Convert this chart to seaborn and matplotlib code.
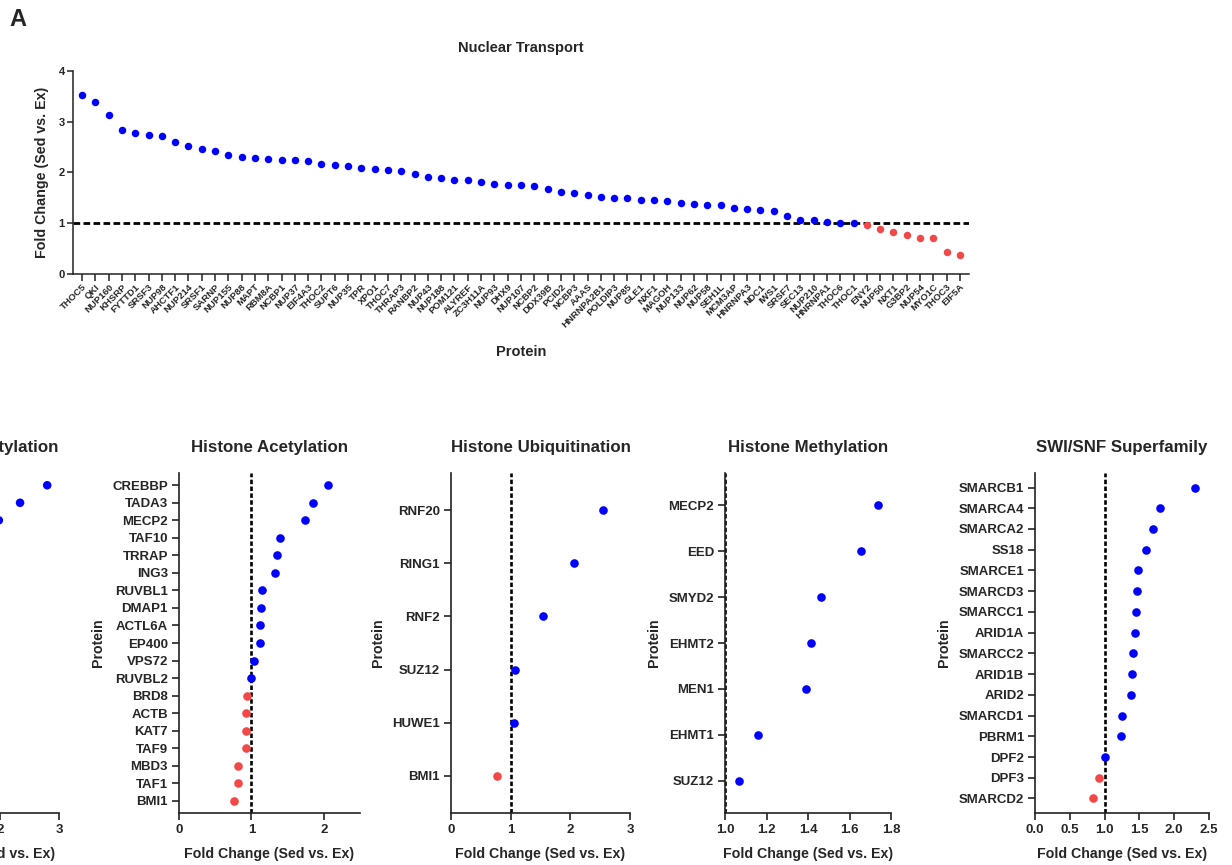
import numpy as np
import pandas as pd
import matplotlib
matplotlib.use("Agg")
import matplotlib.pyplot as plt
import seaborn as sns

# ---------------- data ----------------
nt_proteins = ["THOC5", "QKI", "NUP160", "KHSRP", "FYTTD1", "SRSF3", "NUP98", "AHCTF1", "NUP214",
               "SRSF1", "SARNP", "NUP155", "NUP88", "MAPT", "RBM8A", "NCBP1", "NUP37", "EIF4A3",
               "THOC2", "SUPT6", "NUP35", "TPR", "XPO1", "THOC7", "THRAP3", "RANBP2", "NUP43",
               "NUP188", "POM121", "ALYREF", "ZC3H11A", "NUP93", "DHX9", "NUP107", "NCBP2", "DDX39B",
               "PCID2", "NCBP3", "AAAS", "HNRNPA2B1", "POLDIP3", "NUP85", "GLE1", "NXF1", "MAGOH",
               "NUP133", "NUP62", "NUP58", "SEH1L", "MCM3AP", "HNRNPA3", "NDC1", "IWS1", "SRSF7",
               "SEC13", "NUP210", "HNRNPA1", "THOC6", "THOC1", "ENY2", "NUP50", "NXT1", "G3BP2",
               "NUP54", "MYO1C", "THOC3", "EIF5A"]
nt_values = [3.53, 3.38, 3.14, 2.83, 2.78, 2.73, 2.71, 2.60, 2.53,
             2.46, 2.43, 2.34, 2.31, 2.29, 2.27, 2.25, 2.24, 2.23,
             2.17, 2.15, 2.12, 2.09, 2.06, 2.04, 2.03, 1.97, 1.92,
             1.90, 1.86, 1.86, 1.82, 1.77, 1.76, 1.75, 1.74, 1.67,
             1.61, 1.59, 1.56, 1.51, 1.49, 1.49, 1.45, 1.45, 1.44,
             1.40, 1.38, 1.36, 1.35, 1.31, 1.29, 1.27, 1.25, 1.14,
             1.06, 1.06, 1.02, 1.01, 1.01, 0.96, 0.89, 0.82, 0.77,
             0.71, 0.70, 0.43, 0.37]

deac_values = [2.80, 2.34, 1.98]          # only the visible part of the cut-off panel

acet_proteins = ["CREBBP", "TADA3", "MECP2", "TAF10", "TRRAP", "ING3", "RUVBL1", "DMAP1", "ACTL6A",
                 "EP400", "VPS72", "RUVBL2", "BRD8", "ACTB", "KAT7", "TAF9", "MBD3", "TAF1", "BMI1"]
acet_values = [2.06, 1.85, 1.74, 1.40, 1.35, 1.33, 1.14, 1.13, 1.12,
               1.12, 1.04, 1.00, 0.94, 0.93, 0.92, 0.92, 0.82, 0.81, 0.76]

ubiq_proteins = ["RNF20", "RING1", "RNF2", "SUZ12", "HUWE1", "BMI1"]
ubiq_values = [2.55, 2.06, 1.54, 1.08, 1.06, 0.77]

meth_proteins = ["MECP2", "EED", "SMYD2", "EHMT2", "MEN1", "EHMT1", "SUZ12"]
meth_values = [1.736, 1.657, 1.461, 1.416, 1.392, 1.161, 1.069]

swi_proteins = ["SMARCB1", "SMARCA4", "SMARCA2", "SS18", "SMARCE1", "SMARCD3", "SMARCC1", "ARID1A",
                "SMARCC2", "ARID1B", "ARID2", "SMARCD1", "PBRM1", "DPF2", "DPF3", "SMARCD2"]
swi_values = [2.30, 1.79, 1.70, 1.60, 1.475, 1.46, 1.455, 1.43,
              1.41, 1.40, 1.38, 1.245, 1.24, 1.01, 0.92, 0.84]

# ---------------- style ----------------
sns.set_theme(style="ticks")
plt.rcParams["font.family"] = ["Liberation Sans", "DejaVu Sans"]
plt.rcParams["font.weight"] = "bold"
plt.rcParams["axes.labelweight"] = "bold"
plt.rcParams["axes.titleweight"] = "bold"

BLUE = "#0000FF"
RED = "#F24848"
palette = {"up": BLUE, "down": RED}

W, H = 1232, 865
fig = plt.figure(figsize=(W / 100, H / 100), dpi=100)


def px_axes(left, top, right, bottom):
    return fig.add_axes([left / W, 1 - bottom / H, (right - left) / W, (bottom - top) / H])


def style_axes(ax, lw=1.1):
    for s in ["top", "right"]:
        ax.spines[s].set_visible(False)
    for s in ["left", "bottom"]:
        ax.spines[s].set_linewidth(lw)
        ax.spines[s].set_color("#222222")
    ax.tick_params(width=lw, length=4, color="#222222", direction="out")


def status(vals):
    return ["up" if v >= 1 else "down" for v in vals]


# ---------------- top panel ----------------
ax = px_axes(73, 71, 969, 274)
df_nt = pd.DataFrame({"Protein": nt_proteins, "FC": nt_values, "status": status(nt_values)})
sns.stripplot(data=df_nt, x="Protein", y="FC", hue="status", palette=palette, jitter=False,
              size=5.4, linewidth=0, legend=False, ax=ax, order=nt_proteins)
ax.axhline(1, color="black", lw=2.0, ls=(0, (2.4, 1.2)), zorder=1)
ax.set_xlim(-0.68, len(nt_proteins) - 1 + 0.68)
ax.set_ylim(0, 4)
ax.set_yticks([0, 1, 2, 3, 4])
style_axes(ax)
ax.tick_params(axis="y", labelsize=8, pad=2)
ax.tick_params(axis="x", labelsize=6.8, pad=1, length=5)
for lab in ax.get_xticklabels():
    lab.set_rotation(45)
    lab.set_ha("right")
    lab.set_rotation_mode("anchor")
    lab.set_fontweight("bold")
for lab in ax.get_yticklabels():
    lab.set_fontweight("bold")
ax.set_xlabel("Protein", fontsize=10.5, labelpad=11)
ax.set_ylabel("Fold Change (Sed vs. Ex)", fontsize=10.3, labelpad=7)
ax.set_title("Nuclear Transport", fontsize=10.5, pad=14)
fig.text(9 / W, 1 - 20 / H, "A", fontsize=17, fontweight="bold", va="center", ha="left")


# ---------------- bottom panels ----------------
def hpanel(left, right, proteins, values, title, xlim, xticks, fmt=None, nrows=None):
    ax = px_axes(left, 473, right, 813)
    n = len(values) if nrows is None else nrows
    if proteins is not None:
        df = pd.DataFrame({"Protein": proteins, "FC": values, "status": status(values)})
        sns.stripplot(data=df, x="FC", y="Protein", hue="status", palette=palette, jitter=False,
                      size=6.2, linewidth=0, legend=False, ax=ax, order=proteins, orient="h")
    else:
        df = pd.DataFrame({"FC": values, "row": np.arange(len(values)), "status": status(values)})
        sns.scatterplot(data=df, x="FC", y="row", hue="status", palette=palette, s=38,
                        linewidth=0, legend=False, ax=ax)
        ax.set_yticks(np.arange(n))
        ax.set_yticklabels([])
    ax.axvline(1, color="black", lw=1.9, ls=(0, (1.7, 0.9)), zorder=1)
    ax.set_ylim(n - 1 + 0.7, -0.7)
    ax.set_xlim(*xlim)
    ax.set_xticks(xticks)
    if fmt:
        ax.set_xticklabels([fmt.format(t) for t in xticks])
    style_axes(ax, lw=1.2)
    ax.tick_params(axis="both", labelsize=9.5, length=5, pad=3)
    for lab in ax.get_xticklabels() + ax.get_yticklabels():
        lab.set_fontweight("bold")
    ax.set_xlabel("Fold Change (Sed vs. Ex)", fontsize=10.2, labelpad=8)
    ax.set_ylabel("Protein", fontsize=10.2, labelpad=5)
    ax.set_title(title, fontsize=12.2, pad=15)
    return ax


hpanel(-118, 59, None, deac_values, "Histone Deacetylation", (0, 3), [0, 1, 2, 3], nrows=19)
hpanel(179, 360, acet_proteins, acet_values, "Histone Acetylation", (0, 2.5), [0, 1, 2])
hpanel(451, 630, ubiq_proteins, ubiq_values, "Histone Ubiquitination", (0, 3), [0, 1, 2, 3])
hpanel(725, 891, meth_proteins, meth_values, "Histone Methylation", (1.0, 1.8),
       [1.0, 1.2, 1.4, 1.6, 1.8], fmt="{:.1f}")
hpanel(1035, 1209, swi_proteins, swi_values, "SWI/SNF Superfamily", (0, 2.5),
       [0.0, 0.5, 1.0, 1.5, 2.0, 2.5], fmt="{:.1f}")

fig.savefig("out.png", dpi=100)
